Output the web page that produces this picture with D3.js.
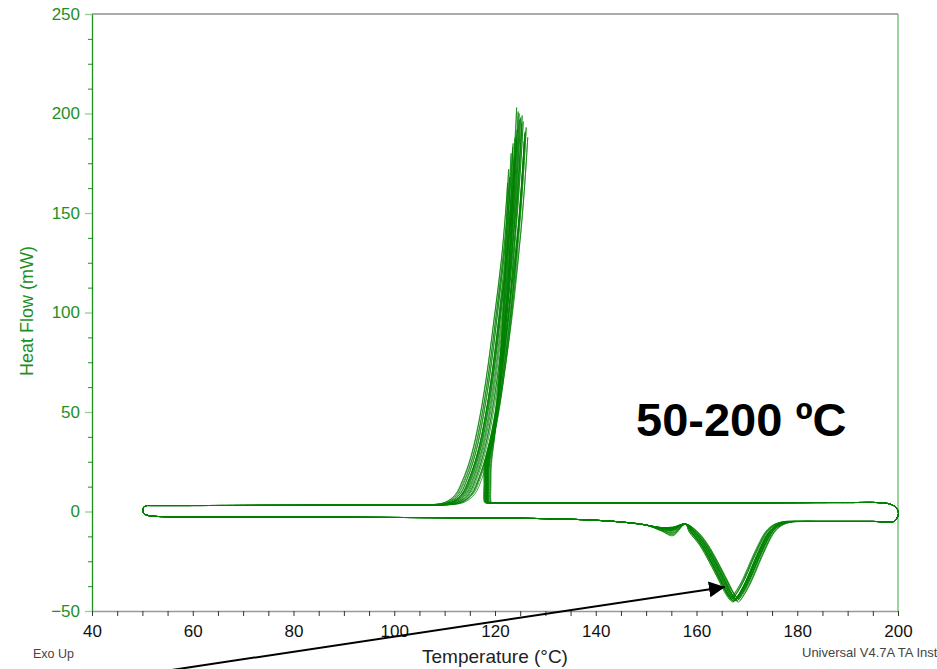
<!DOCTYPE html>
<html>
<head>
<meta charset="utf-8">
<script src="https://cdn.jsdelivr.net/npm/d3@7"></script>
<style>
  body { margin: 0; background: #fff; }
  svg { display: block; font-family: "Liberation Sans", Arial, sans-serif; }
</style>
</head>
<body>
<svg id="chart" width="937" height="669"></svg>
<script>
// ---- data (one entry per cycle) ----
const exoPeakT  = [124.3, 125.1, 123.6, 126.2, 124.8, 122.7, 125.6, 124.0, 123.2, 125.9, 124.6, 126.5, 123.9, 125.3, 122.9, 124.4, 125.8, 123.5, 124.9, 122.5, 126.0, 123.8, 125.4, 124.2];
const exoPeakH  = [203, 198, 185, 193, 200, 172, 196, 188, 180, 190, 201, 188, 178, 195, 168, 192, 186, 183, 197, 165, 191, 176, 199, 187];
const spikeT    = [118.6, 118.1, 118.9, 118.4, 118.5, 119.2, 117.9, 118.7, 118.6, 118.2, 118.5, 118.0, 118.8, 118.3, 119.1, 118.6, 118.2, 118.7, 118.4, 119.3, 118.1, 118.9, 118.3, 118.6];
const endoPeakT = [167.4, 167.9, 167.1, 168.3, 167.6, 166.9, 168.0, 167.3, 167.8, 168.5, 167.2, 167.7, 168.1, 166.8, 167.5, 168.2, 167.0, 167.9, 167.6, 168.4, 167.3, 166.7, 168.0, 167.5];
const endoDepth = [-45, -44, -43.5, -45.5, -44.5, -43, -44, -45, -43.5, -44.5, -45.5, -44, -43, -44.5, -45, -43.5, -44, -45, -44.2, -43.8, -45.2, -43.4, -44.8, -44.1];
const shoulderDepth = [-12.2, -8.5, -9, -11.5, -8, -9.5, -8.2, -10.5, -8.8, -7.8, -11, -8.3, -9.2, -8.6, -10, -8.1, -9.6, -8.4, -7.9, -10.8, -8.7, -9.3, -8.2, -11.8];

// shared baseline pieces [T, mW]
const leftTurn   = [[51, 3], [50.3, 2.3], [50.05, 0.8], [50.4, -1.2], [51.5, -2.2], [53, -2.5]];
const heatBase   = [[70, -2.7], [90, -2.9], [110, -3.1], [130, -3.6], [140, -4.4], [146, -5.5], [150, -6.8]];
const heatTail   = [[185, -5], [195, -5], [199.2, -5]];
const rightTurn  = [[199.6, -4], [200.1, -1], [199.7, 1.8], [198.6, 3.6], [196.5, 4.4]];
const coolBase   = [[190, 4.5], [170, 4.4], [150, 4.4], [130, 4.3]];
const coolTail   = [[100, 3.2], [80, 3.1], [60, 3]];

// peak shapes: endotherm [dT from peak, mW at 45 mW depth]
const endoShape = [[-8.2, -10.5], [-6.2, -17], [-4.2, -26], [-2.2, -36], [-1, -42], [0, -45], [1, -42], [2.5, -35],
                   [4, -26], [5.5, -17.5], [7, -10.5], [8.5, -7], [10.5, -5.3], [13, -5]];
// exotherm rise [fraction of spike->peak in T, fraction in mW]
const exoRise = [[0.25, 0.12], [0.5, 0.32], [0.68, 0.5], [0.83, 0.7], [0.93, 0.86], [1, 1]];
// exotherm fall [dT from peak, fraction of peak height]
const exoFall = [[-0.3, 0.93], [-1.3, 0.75], [-2.7, 0.575], [-4.2, 0.4], [-5.7, 0.26], [-7.3, 0.15],
                 [-9, 0.075], [-10.5, 0.03], [-12.5, 0.008], [-15, 0.001]];

const xTicks = [40, 60, 80, 100, 120, 140, 160, 180, 200];
const yTicks = [-50, 0, 50, 100, 150, 200, 250];

const svg = d3.select("#chart");
const margin = {top: 14, right: 39, bottom: 58, left: 92};
const width = 937, height = 669;

const x = d3.scaleLinear().domain([40, 200]).range([margin.left, width - margin.right]);
const y = d3.scaleLinear().domain([-50, 250]).range([height - margin.bottom, margin.top]);

function cyclePoints(i) {
  const pts = [...leftTurn, ...heatBase];
  const ds = shoulderDepth[i];
  pts.push([153, -8.5 + (ds + 9) * 0.4], [155.3, ds], [157.8, -6.3]);
  const k = endoDepth[i] / -45;
  endoShape.forEach(([dt, v]) => pts.push([endoPeakT[i] + dt, Math.min(-5, v * k)]));
  pts.push(...heatTail, ...rightTurn, ...coolBase);
  const ts = spikeT[i], tp = exoPeakT[i], hp = exoPeakH[i];
  pts.push([ts + 0.4, 4.3], [ts, 4.6], [ts - 0.1, 14], [ts, 24]);
  exoRise.forEach(([a, b]) => pts.push([ts + (tp - ts) * a, 24 + (hp - 24) * b]));
  exoFall.forEach(([dt, b]) => pts.push([tp + dt, 3.3 + (hp - 3.3) * b]));
  pts.push(...coolTail, [51, 3]);
  return pts;
}

const line = d3.line()
  .x(d => x(d[0]))
  .y(d => y(d[1]))
  .curve(d3.curveCatmullRom.alpha(0.5));

// frame: gray top, green right
svg.append("line")
  .attr("x1", x(40)).attr("x2", x(200)).attr("y1", y(250)).attr("y2", y(250))
  .attr("stroke", "#8f8f8f").attr("stroke-width", 1.5);
svg.append("line")
  .attr("x1", x(200)).attr("x2", x(200)).attr("y1", y(250)).attr("y2", y(-50))
  .attr("stroke", "#5cb85c").attr("stroke-width", 1.2);

// curves
svg.append("g")
  .selectAll("path")
  .data(exoPeakT.map((d, i) => cyclePoints(i)))
  .join("path")
  .attr("d", line)
  .attr("fill", "none")
  .attr("stroke", "#008000")
  .attr("stroke-width", 0.9)
  .attr("stroke-opacity", 0.8);

// x axis
const xAxis = svg.append("g")
  .attr("transform", `translate(0,${y(-50)})`)
  .call(d3.axisBottom(x).tickValues(d3.range(40, 201, 5)).tickSize(5).tickSizeOuter(0)
    .tickFormat(d => xTicks.includes(d) ? d : ""));
xAxis.select(".domain").attr("stroke", "#999").attr("stroke-width", 1.5);
xAxis.selectAll(".tick line").attr("stroke", "#333");
xAxis.selectAll(".tick text")
  .attr("dy", "1.05em")
  .attr("font-size", 17).attr("fill", "#111")
  .attr("font-family", "Liberation Sans, Arial, sans-serif");

// y axis: minor ticks every 12.5, labelled every 50
const yMinor = svg.append("g")
  .attr("transform", `translate(${x(40)},0)`)
  .call(d3.axisLeft(y).tickValues(d3.range(-50, 251, 12.5).filter(v => !yTicks.includes(v)))
    .tickSize(4).tickSizeOuter(0).tickFormat(""));
yMinor.select(".domain").remove();
yMinor.selectAll(".tick line").attr("stroke", "#1f8f1f");

const yAxis = svg.append("g")
  .attr("transform", `translate(${x(40)},0)`)
  .call(d3.axisLeft(y).tickValues(yTicks).tickSize(7).tickSizeOuter(0).tickPadding(5));
yAxis.select(".domain").attr("stroke", "#1f8f1f").attr("stroke-width", 1.3);
yAxis.selectAll(".tick line").attr("stroke", "#8fcf8f").attr("stroke-width", 1.3);
yAxis.selectAll(".tick text")
  .attr("font-size", 17).attr("fill", "#1f8f1f")
  .attr("font-family", "Liberation Sans, Arial, sans-serif");

// axis titles and footers
svg.append("text")
  .attr("transform", `translate(33,311) rotate(-90)`)
  .attr("text-anchor", "middle")
  .attr("font-size", 18).attr("fill", "#1f8f1f")
  .text("Heat Flow (mW)");

svg.append("text")
  .attr("x", 495).attr("y", 663)
  .attr("text-anchor", "middle")
  .attr("font-size", 19).attr("fill", "#222")
  .text("Temperature (°C)");

svg.append("text")
  .attr("x", 33).attr("y", 658)
  .attr("font-size", 12.5).attr("fill", "#444")
  .text("Exo Up");

svg.append("text")
  .attr("x", 802).attr("y", 657)
  .attr("font-size", 13).attr("fill", "#444")
  .text("Universal V4.7A TA Inst");

svg.append("text")
  .attr("x", 636).attr("y", 436)
  .attr("font-size", 47).attr("font-weight", "bold").attr("fill", "#000")
  .text("50-200 ºC");

// arrow to the melting peak
svg.append("defs").append("marker")
  .attr("id", "head")
  .attr("viewBox", "0 0 10 10")
  .attr("refX", 10).attr("refY", 5)
  .attr("markerWidth", 8).attr("markerHeight", 8)
  .attr("markerUnits", "strokeWidth")
  .attr("orient", "auto")
  .append("path")
  .attr("d", "M0,0 L10,5 L0,10 Z")
  .attr("fill", "#000");

svg.append("line")
  .attr("x1", 165).attr("y1", 671)
  .attr("x2", 725).attr("y2", 587)
  .attr("stroke", "#000").attr("stroke-width", 2)
  .attr("marker-end", "url(#head)");
</script>
</body>
</html>
